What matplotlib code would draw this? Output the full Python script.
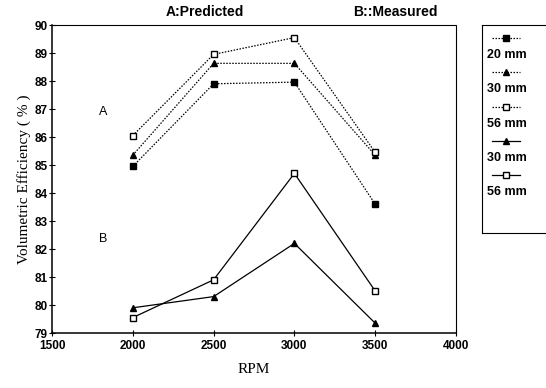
import matplotlib
matplotlib.use("Agg")
import matplotlib.pyplot as plt
from matplotlib.lines import Line2D
from matplotlib.font_manager import FontProperties

rpm = [2000, 2500, 3000, 3500]

# A: predicted (dotted)
pred_20mm = [84.95, 87.9, 87.96, 83.6]
pred_30mm = [85.35, 88.63, 88.63, 85.35]
pred_56mm = [86.05, 88.95, 89.55, 85.45]

# B: measured (solid)
meas_30mm = [79.9, 80.3, 82.2, 79.35]
meas_56mm = [79.55, 80.9, 84.7, 80.5]

legend_labels = ["20 mm", "30 mm", "56 mm", "30 mm", "56 mm"]

W, H = 546, 388
fig = plt.figure(figsize=(W / 100, H / 100), dpi=100)
ax = fig.add_axes([52 / W, 1 - 333 / H, (456 - 52) / W, (333 - 25) / H])

tick_font = FontProperties(family="Liberation Sans", weight="bold", size=8.5)
serif = dict(family="Liberation Serif", size=11)

dotted = dict(color="black", linestyle=(0, (1.2, 1.2)), linewidth=0.9)
solid = dict(color="black", linestyle="-", linewidth=0.9)

ax.plot(rpm, pred_20mm, marker="s", markersize=4.5, markerfacecolor="black", **dotted)
ax.plot(rpm, pred_30mm, marker="^", markersize=4, markerfacecolor="black", **dotted)
ax.plot(rpm, pred_56mm, marker="s", markersize=5, markerfacecolor="white", **dotted)
ax.plot(rpm, meas_30mm, marker="^", markersize=4, markerfacecolor="black", **solid)
ax.plot(rpm, meas_56mm, marker="s", markersize=5, markerfacecolor="white", **solid)

ax.set_xlim(1500, 4000)
ax.set_ylim(79, 90)
ax.set_xticks(range(1500, 4001, 500))
ax.set_yticks(range(79, 91))
ax.tick_params(direction="inout", length=4, width=0.8)
ax.tick_params(axis="x", pad=3)
ax.tick_params(axis="y", pad=1)
for lab in ax.get_xticklabels() + ax.get_yticklabels():
    lab.set_fontproperties(tick_font)

for side in ["top", "right"]:
    ax.spines[side].set_linestyle((0, (1, 1)))
    ax.spines[side].set_linewidth(0.8)
for side in ["left", "bottom"]:
    ax.spines[side].set_linewidth(1.1)

ax.set_xlabel("RPM", labelpad=8, **serif)
ax.set_ylabel("Volumetric Efficiency ( % )", labelpad=3, **serif)

ax.text(1790, 86.8, "A", fontsize=9, family="Liberation Sans")
ax.text(1790, 82.25, "B", fontsize=9, family="Liberation Sans")

fig.text(205 / W, 1 - 12 / H, "A:Predicted", ha="center", va="center",
         fontsize=10, weight="bold", family="Liberation Sans")
fig.text(395 / W, 1 - 12 / H, "B::Measured", ha="center", va="center",
         fontsize=10, weight="bold", family="Liberation Sans")

# legend panel with the line sample above each label
lax = fig.add_axes([482 / W, 1 - 233 / H, (W - 482) / W, (233 - 25) / H])
lax.set_xlim(0, W - 482)
lax.set_ylim(233, 25)
lax.set_xticks([])
lax.set_yticks([])
lax.spines["left"].set_linestyle((0, (1, 1)))
lax.spines["right"].set_visible(False)

styles = [
    (dotted, "s", "black", 4.5),
    (dotted, "^", "black", 4),
    (dotted, "s", "white", 4.5),
    (solid, "^", "black", 4),
    (solid, "s", "white", 4.5),
]
handle_y = [38, 72, 107, 141, 175]
for (ls, mk, fc, ms), hy, label in zip(styles, handle_y, legend_labels):
    lax.add_line(Line2D([10, 38], [hy, hy], **ls))
    lax.plot([24], [hy], marker=mk, markersize=ms, markerfacecolor=fc,
             markeredgecolor="black", linestyle="none")
    lax.text(5, hy + 17, label, fontsize=9, weight="bold",
             family="Liberation Sans", va="center")

fig.savefig("out.png", dpi=100)
